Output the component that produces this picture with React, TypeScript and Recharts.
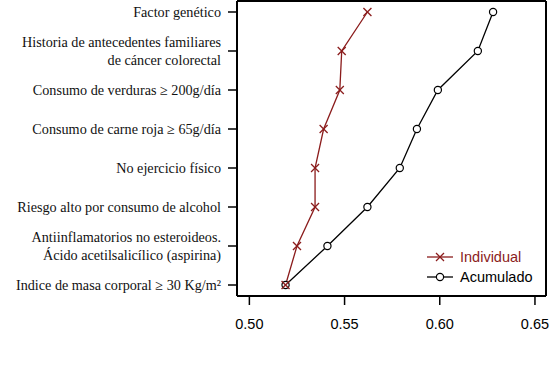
import React from "react";
import {
  LineChart,
  Line,
  XAxis,
  YAxis,
  Legend,
  CartesianGrid,
} from "recharts";

// bottom to top, as drawn on the y axis
const factors: string[][] = [
  ["Indice de masa corporal ≥ 30 Kg/m²"],
  ["Antiinflamatorios no esteroideos.", "Ácido acetilsalicílico (aspirina)"],
  ["Riesgo alto por consumo de alcohol"],
  ["No ejercicio físico"],
  ["Consumo de carne roja  ≥ 65g/día"],
  ["Consumo de verduras ≥ 200g/día"],
  ["Historia de antecedentes familiares", "de cáncer colorectal"],
  ["Factor genético"],
];
const individual = [0.519, 0.525, 0.5345, 0.5345, 0.539, 0.5475, 0.5485, 0.562];
const acumulado = [0.519, 0.541, 0.562, 0.579, 0.588, 0.599, 0.62, 0.628];
const xTicks = [0.5, 0.55, 0.6, 0.65];

const RED = "#8b1c1c";
const X_DOMAIN: [number, number] = [0.4935, 0.6558];
const Y_DOMAIN: [number, number] = [-0.282, 7.282];

const data = factors.map((_, i) => ({
  idx: i,
  individual: individual[i],
  acumulado: acumulado[i],
}));

function CrossDot(props: any) {
  const { cx, cy } = props;
  if (cx == null || cy == null) return null;
  const s = 4;
  return (
    <g stroke={RED} strokeWidth={1.3}>
      <line x1={cx - s} y1={cy - s} x2={cx + s} y2={cy + s} />
      <line x1={cx - s} y1={cy + s} x2={cx + s} y2={cy - s} />
    </g>
  );
}

function CircleDot(props: any) {
  const { cx, cy } = props;
  if (cx == null || cy == null) return null;
  return <circle cx={cx} cy={cy} r={3.6} fill="#fff" stroke="#000" strokeWidth={1.2} />;
}

function XTick(props: any) {
  const { x, y, payload } = props;
  return (
    <g>
      <line x1={x} y1={y + 1} x2={x} y2={y + 9} stroke="#000" strokeWidth={1.5} />
      <text
        x={x}
        y={y + 33}
        textAnchor="middle"
        fontFamily="'Liberation Sans', Arial, sans-serif"
        fontSize={14.5}
        fill="#000"
      >
        {payload.value.toFixed(2)}
      </text>
    </g>
  );
}

function YTick(props: any) {
  const { x, y, payload } = props;
  const lines = factors[payload.value] || [];
  const off = lines.length > 1 ? -9 : 0;
  return (
    <g>
      <line x1={x - 9} y1={y} x2={x - 1} y2={y} stroke="#000" strokeWidth={1.5} />
      <text
        x={x - 16}
        textAnchor="end"
        fontFamily="'Liberation Serif', 'DejaVu Serif', serif"
        fontSize={14.2}
        fill="#111"
      >
        {lines.map((l, i) => (
          <tspan key={i} x={x - 16} y={y + off + i * 18 + 4.8}>
            {l}
          </tspan>
        ))}
      </text>
    </g>
  );
}

function LegendBox() {
  const items = [
    { label: "Individual", color: RED, dot: "x" },
    { label: "Acumulado", color: "#000", dot: "o" },
  ];
  return (
    <div style={{ fontFamily: "'Liberation Sans', Arial, sans-serif", fontSize: 14.5 }}>
      {items.map((it) => (
        <div key={it.label} style={{ display: "flex", alignItems: "center", height: 20 }}>
          <svg width={34} height={20}>
            <line x1={1} y1={10} x2={27} y2={10} stroke={it.color} strokeWidth={1.3} />
            {it.dot === "x" ? (
              <g stroke={RED} strokeWidth={1.3}>
                <line x1={10} y1={6} x2={18} y2={14} />
                <line x1={10} y1={14} x2={18} y2={6} />
              </g>
            ) : (
              <circle cx={14} cy={10} r={3.6} fill="#fff" stroke="#000" strokeWidth={1.2} />
            )}
          </svg>
          <span style={{ color: it.color }}>{it.label}</span>
        </div>
      ))}
    </div>
  );
}

export default function App() {
  return (
    <div style={{ position: "absolute", left: 0, top: 0, background: "#fff" }}>
      <LineChart
        width={550}
        height={369}
        data={data}
        layout="vertical"
        margin={{ top: 1, right: 4, bottom: 0, left: 0 }}
      >
        {/* plot frame */}
        <CartesianGrid
          stroke="#000"
          strokeWidth={2}
          strokeDasharray="0"
          verticalCoordinatesGenerator={({ offset }: any) => [offset.left, offset.left + offset.width]}
          horizontalCoordinatesGenerator={({ offset }: any) => [offset.top, offset.top + offset.height]}
        />
        <XAxis
          type="number"
          dataKey="individual"
          domain={X_DOMAIN}
          ticks={xTicks}
          allowDataOverflow
          axisLine={false}
          tickLine={false}
          tickSize={0}
          tickMargin={0}
          height={73}
          tick={<XTick />}
          interval={0}
        />
        <YAxis
          type="number"
          dataKey="idx"
          domain={Y_DOMAIN}
          ticks={[0, 1, 2, 3, 4, 5, 6, 7]}
          reversed
          allowDataOverflow
          axisLine={false}
          tickLine={false}
          tickSize={0}
          tickMargin={0}
          width={237}
          tick={<YTick />}
          interval={0}
        />
        <Line
          dataKey="acumulado"
          stroke="#000"
          strokeWidth={1.3}
          dot={<CircleDot />}
          isAnimationActive={false}
        />
        <Line
          dataKey="individual"
          stroke={RED}
          strokeWidth={1.3}
          dot={<CrossDot />}
          isAnimationActive={false}
        />
        <Legend
          layout="vertical"
          align="center"
          verticalAlign="middle"
          content={<LegendBox />}
          wrapperStyle={{ left: 426, top: 247, width: 120, height: 42 }}
        />
      </LineChart>
    </div>
  );
}
